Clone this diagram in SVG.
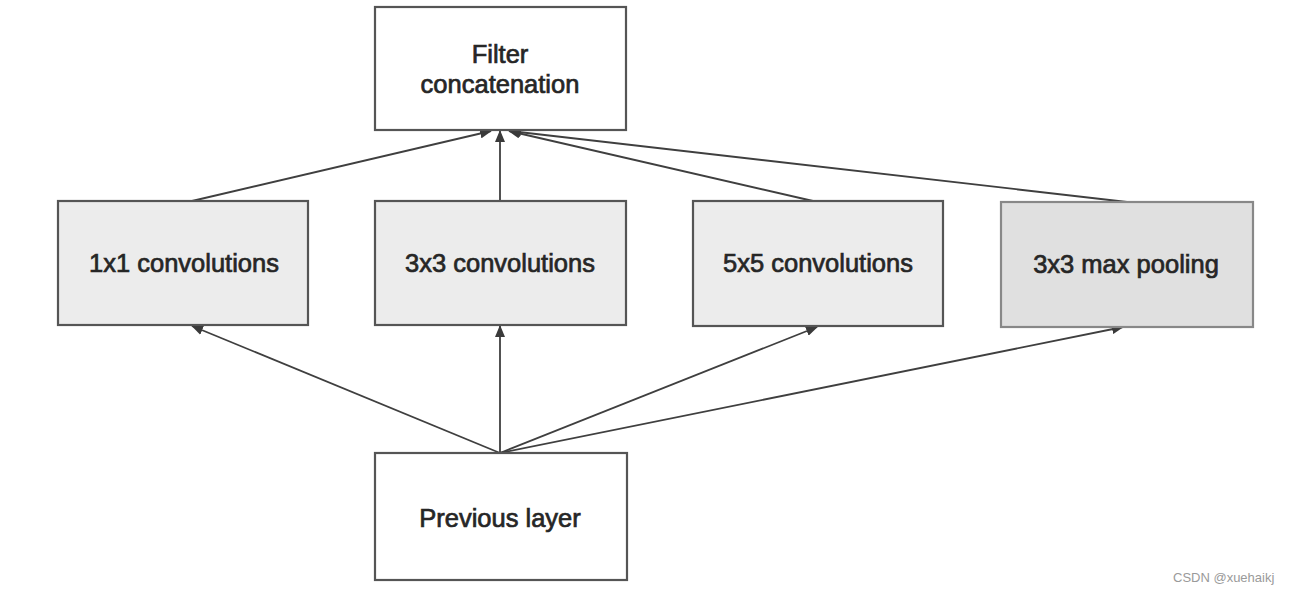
<svg xmlns="http://www.w3.org/2000/svg" width="1292" height="594" viewBox="0 0 1292 594">
<defs>
<marker id="ah" viewBox="0 0 12 10" refX="11" refY="5" markerWidth="12" markerHeight="10" markerUnits="userSpaceOnUse" orient="auto">
<path d="M0,0 L12,5 L0,10 Z" fill="#3a3a3a"/>
</marker>
</defs>
<style>
.box{stroke:#555;stroke-width:2.2}
.w{fill:#ffffff}
.g{fill:#ececec}
.p{fill:#e0e0e0}
.t{font-family:"Liberation Sans",Arial,sans-serif;font-size:25.5px;fill:#262626;stroke:#262626;stroke-width:0.7;text-anchor:middle}
.c{fill:none;stroke:#3f3f3f;stroke-width:1.8;marker-end:url(#ah)}
.wm{font-family:"Liberation Sans",Arial,sans-serif;font-size:13px;fill:#9a9a9a}
</style>
<rect width="1292" height="594" fill="#ffffff"/>
<g id="connectors">
<line class="c" x1="192" y1="201" x2="491" y2="131"/>
<line class="c" x1="500" y1="201" x2="500" y2="131"/>
<line class="c" x1="813" y1="201" x2="509" y2="131"/>
<line class="c" x1="1127" y1="202" x2="510" y2="131"/>
<line class="c" x1="500" y1="453" x2="192" y2="326"/>
<line class="c" x1="500" y1="453" x2="500" y2="326"/>
<line class="c" x1="500" y1="453" x2="817" y2="327"/>
<line class="c" x1="500" y1="453" x2="1123" y2="327"/>
</g>
<g id="filter-concatenation">
<rect class="box w" x="375" y="7" width="251" height="123"/>
<text class="t" x="500" y="63">Filter</text>
<text class="t" x="500" y="93">concatenation</text>
</g>
<g id="conv1x1">
<rect class="box g" x="58" y="201" width="250" height="124"/>
<text class="t" x="184" y="272">1x1 convolutions</text>
</g>
<g id="conv3x3">
<rect class="box g" x="375" y="201" width="251" height="124"/>
<text class="t" x="500" y="272">3x3 convolutions</text>
</g>
<g id="conv5x5">
<rect class="box g" x="693" y="201" width="250" height="125"/>
<text class="t" x="818" y="272">5x5 convolutions</text>
</g>
<g id="maxpool">
<rect class="box p" x="1001" y="202" width="252" height="125" style="stroke:#888"/>
<text class="t" x="1126" y="273">3x3 max pooling</text>
</g>
<g id="previous-layer">
<rect class="box w" x="375" y="453" width="252" height="127"/>
<text class="t" x="500" y="527">Previous layer</text>
</g>
<text class="wm" x="1173" y="582">CSDN @xuehaikj</text>
</svg>
